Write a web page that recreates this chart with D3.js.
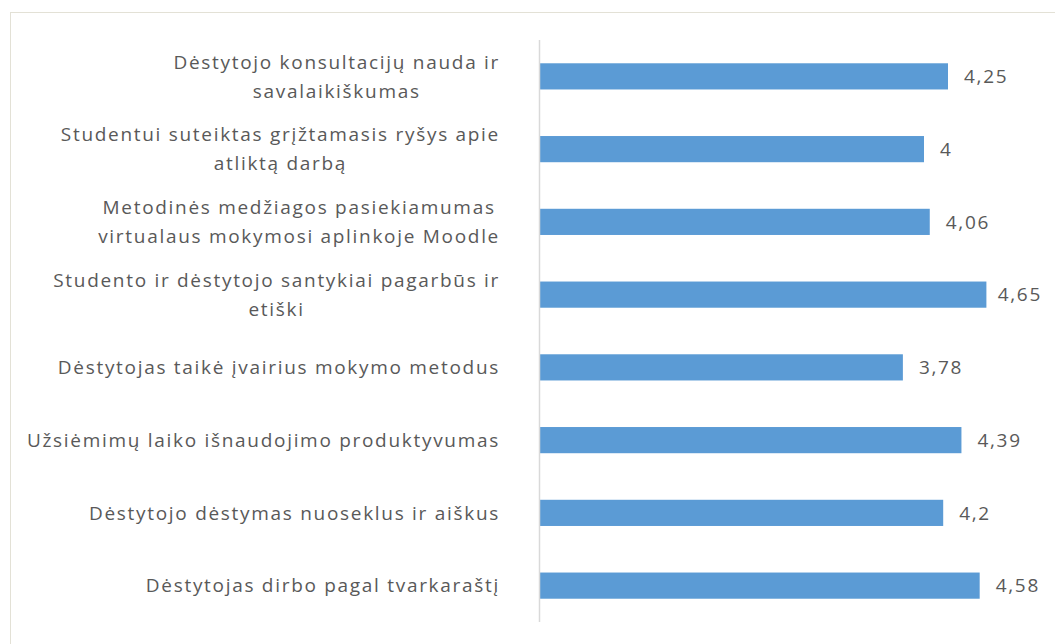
<!DOCTYPE html>
<html>
<head>
<meta charset="utf-8">
<script src="https://cdn.jsdelivr.net/npm/d3@7"></script>
<style>
  body { margin: 0; background: #fff; }
  text { font-family: "Open Sans", sans-serif; fill: #595959; font-size: 19px; letter-spacing: 1.7px; }
</style>
</head>
<body>
<script>
// Categories (line breaks as in the original chart)
const categories = [
	"Dėstytojo konsultacijų nauda ir\nsavalaikiškumas",
	"Studentui suteiktas grįžtamasis ryšys apie\natliktą darbą",
	"Metodinės medžiagos pasiekiamumas\nvirtualaus mokymosi aplinkoje Moodle",
	"Studento ir dėstytojo santykiai pagarbūs ir\netiški",
	"Dėstytojas taikė įvairius mokymo metodus",
	"Užsiėmimų laiko išnaudojimo produktyvumas",
	"Dėstytojo dėstymas nuoseklus ir aiškus",
	"Dėstytojas dirbo pagal tvarkaraštį"
];
const values = [4.25, 4, 4.06, 4.65, 3.78, 4.39, 4.2, 4.58];

const width = 1055, height = 644;

const svg = d3.select("body").append("svg")
	.attr("width", width)
	.attr("height", height);

// chart area border
svg.append("rect")
	.attr("x", 10.5)
	.attr("y", 12.5)
	.attr("width", 1100)
	.attr("height", 700)
	.attr("fill", "none")
	.attr("stroke", "#e3e1d6");

const x = d3.scaleLinear().domain([0, 5]).range([540, 1020]);
const y = d3.scaleBand().domain(d3.range(categories.length)).range([40, 622])
	.paddingInner(0.64)
	.paddingOuter(0.32);

const fmt = v => String(v).replace(".", ",");

// Bars
svg.selectAll("rect.bar")
	.data(values)
	.enter().append("rect")
	.attr("class", "bar")
	.attr("x", x(0))
	.attr("y", (d, i) => y(i))
	.attr("width", d => x(d) - x(0))
	.attr("height", y.bandwidth())
	.attr("fill", "#5b9bd5");

// Vertical axis line
svg.append("line")
	.attr("x1", 539.5).attr("x2", 539.5)
	.attr("y1", 40).attr("y2", 622)
	.attr("stroke", "#d9d9d9")
	.attr("stroke-width", 1.5);

// Value labels (pushed back inside if they would run off the chart)
svg.selectAll("text.val")
	.data(values)
	.enter().append("text")
	.attr("class", "val")
	.attr("y", (d, i) => y(i) + y.bandwidth() / 2)
	.attr("dy", "0.35em")
	.text(fmt)
	.attr("x", function(d) {
		const w = this.getComputedTextLength();
		return Math.min(x(d) + 16, 1042 - w);
	});

// Category labels, lines centered with each other, block right aligned
const labelRight = 500;
const lineH = 29;
categories.forEach((c, i) => {
	const lines = c.split("\n");
	const g = svg.append("text")
		.attr("text-anchor", "middle");
	const cy = y(i) + y.bandwidth() / 2;
	lines.forEach((l, j) => {
		g.append("tspan")
			.attr("y", cy + (j - (lines.length - 1) / 2) * lineH)
			.attr("dy", "0.35em")
			.text(l);
	});
	// measure widest line and center the block so its right edge sits at labelRight
	const w = d3.max(g.selectAll("tspan").nodes(), n => n.getComputedTextLength());
	g.selectAll("tspan").attr("x", labelRight - w / 2);
});
</script>
</body>
</html>
